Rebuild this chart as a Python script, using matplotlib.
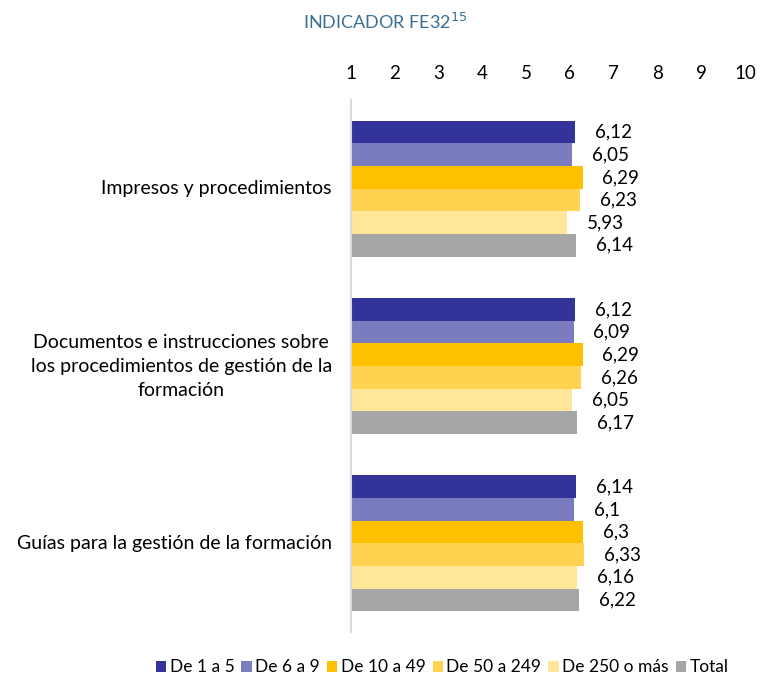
import numpy as np
import matplotlib.pyplot as plt
import matplotlib.transforms as mtransforms

categories = ['Impresos y procedimientos',
              'Documentos e instrucciones sobre\nlos procedimientos de gestión de la\nformación',
              'Guías para la gestión de la formación']
series = ['De 1 a 5', 'De 6 a 9', 'De 10 a 49', 'De 50 a 249', 'De 250 o más', 'Total']
values = [
    [6.12, 6.12, 6.14],
    [6.05, 6.09, 6.1],
    [6.29, 6.29, 6.3],
    [6.23, 6.26, 6.33],
    [5.93, 6.05, 6.16],
    [6.14, 6.17, 6.22],
]
colors = ['#333399', '#7B7BC0', '#FFC000', '#FFD34F', '#FFE699', '#A6A6A6']

plt.rcParams['font.family'] = ['Lato', 'DejaVu Sans']

fig = plt.figure(figsize=(7.61, 6.76), dpi=100)
ax = fig.add_axes([0.461, 0.065, 0.518, 0.787])

y = np.arange(len(categories))
h = 0.1277
for i, (name, vals) in enumerate(zip(series, values)):
    pos = y - 2.5 * h + i * h
    ax.barh(pos, np.array(vals) - 1, left=1, height=h, color=colors[i], label=name)
    for p, v in zip(pos, vals):
        ax.text(v + 0.45, p, str(v).replace('.', ','), va='center', ha='left', fontsize=13.5)

ax.set_xlim(1, 10)
ax.set_ylim(2.5, -0.5)
ax.set_xticks(range(1, 11))
ax.xaxis.tick_top()
ax.tick_params(axis='x', length=0, pad=13, labelsize=13.5)
ax.set_yticks([])

# category labels, right aligned to the axis but centred line by line
trans = mtransforms.blended_transform_factory(ax.transAxes, ax.transData)
for yi, cat in zip(y, categories):
    ax.text(-0.048, yi, cat, transform=trans, ha='right', va='center',
            multialignment='center', fontsize=14, linespacing=1.5)

for s in ['top', 'right', 'bottom']:
    ax.spines[s].set_visible(False)
ax.spines['left'].set_color('#D9D9D9')
ax.spines['left'].set_linewidth(1.5)

fig.text(0.506, 0.967, 'INDICADOR FE32$^{15}$', ha='center', va='center',
         color='#3A6F94', fontsize=13)

ax.legend(loc='center', bbox_to_anchor=(0.581, 0.013), bbox_transform=fig.transFigure,
          ncol=6, frameon=False, fontsize=12.5, handlelength=0.6, handleheight=0.6,
          handletextpad=0.2, columnspacing=0.4)

fig.savefig('out.png', dpi=100)
